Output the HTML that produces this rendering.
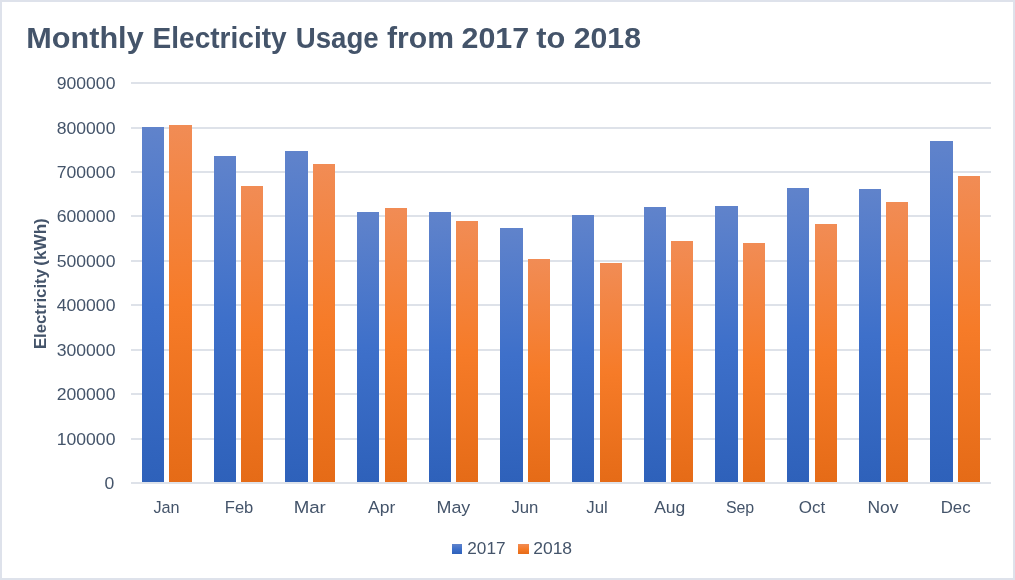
<!DOCTYPE html>
<html lang="en">
<head>
<meta charset="utf-8">
<title>Monthly Electricity Usage from 2017 to 2018</title>
<style>
html,body{margin:0;padding:0;background:#fff;}
body{width:1015px;height:580px;overflow:hidden;}
svg{display:block;}
text{font-family:"Liberation Sans",sans-serif;fill:#44546A;}
.b{font-weight:bold;}
</style>
</head>
<body>
<svg width="1015" height="580" viewBox="0 0 1015 580">
<defs>
<linearGradient id="gb" x1="0" y1="0" x2="0" y2="1"><stop offset="0" stop-color="#6083CB"/><stop offset="0.5" stop-color="#3E70CA"/><stop offset="1" stop-color="#2E61BA"/></linearGradient>
<linearGradient id="go" x1="0" y1="0" x2="0" y2="1"><stop offset="0" stop-color="#F18C55"/><stop offset="0.5" stop-color="#F67B28"/><stop offset="1" stop-color="#E56B17"/></linearGradient>
</defs>
<rect x="0" y="0" width="1015" height="580" fill="#DEE2EB"/>
<rect x="2" y="2" width="1011" height="576" fill="#FFFFFF"/>
<g shape-rendering="crispEdges" fill="#DEE2E9">
<rect x="131" y="82" width="860" height="2"/>
<rect x="131" y="127" width="860" height="2"/>
<rect x="131" y="171" width="860" height="2"/>
<rect x="131" y="215" width="860" height="2"/>
<rect x="131" y="260" width="860" height="2"/>
<rect x="131" y="304" width="860" height="2"/>
<rect x="131" y="349" width="860" height="2"/>
<rect x="131" y="393" width="860" height="2"/>
<rect x="131" y="438" width="860" height="2"/>
</g>
<g shape-rendering="crispEdges">
<rect x="142" y="127" width="22" height="356" fill="url(#gb)"/>
<rect x="169" y="125" width="23" height="358" fill="url(#go)"/>
<rect x="214" y="156" width="22" height="327" fill="url(#gb)"/>
<rect x="241" y="186" width="22" height="297" fill="url(#go)"/>
<rect x="285" y="151" width="23" height="332" fill="url(#gb)"/>
<rect x="313" y="164" width="22" height="319" fill="url(#go)"/>
<rect x="357" y="212" width="22" height="271" fill="url(#gb)"/>
<rect x="385" y="208" width="22" height="275" fill="url(#go)"/>
<rect x="429" y="212" width="22" height="271" fill="url(#gb)"/>
<rect x="456" y="221" width="22" height="262" fill="url(#go)"/>
<rect x="500" y="228" width="23" height="255" fill="url(#gb)"/>
<rect x="528" y="259" width="22" height="224" fill="url(#go)"/>
<rect x="572" y="215" width="22" height="268" fill="url(#gb)"/>
<rect x="600" y="263" width="22" height="220" fill="url(#go)"/>
<rect x="644" y="207" width="22" height="276" fill="url(#gb)"/>
<rect x="671" y="241" width="22" height="242" fill="url(#go)"/>
<rect x="715" y="206" width="23" height="277" fill="url(#gb)"/>
<rect x="743" y="243" width="22" height="240" fill="url(#go)"/>
<rect x="787" y="188" width="22" height="295" fill="url(#gb)"/>
<rect x="815" y="224" width="22" height="259" fill="url(#go)"/>
<rect x="859" y="189" width="22" height="294" fill="url(#gb)"/>
<rect x="886" y="202" width="22" height="281" fill="url(#go)"/>
<rect x="930" y="141" width="23" height="342" fill="url(#gb)"/>
<rect x="958" y="176" width="22" height="307" fill="url(#go)"/>
</g>
<rect x="131" y="482" width="860" height="2" fill="#DEE2E9" shape-rendering="crispEdges"/>
<g class="b" font-size="29">
<text id="tw0" x="26.30" y="48.4" textLength="117.38" lengthAdjust="spacingAndGlyphs">Monthly</text>
<text id="tw1" x="152.55" y="48.4" textLength="134.09" lengthAdjust="spacingAndGlyphs">Electricity</text>
<text id="tw2" x="295.70" y="48.4" textLength="82.95" lengthAdjust="spacingAndGlyphs">Usage</text>
<text id="tw3" x="387.10" y="48.4" textLength="66.95" lengthAdjust="spacingAndGlyphs">from</text>
<text id="tw4" x="461.50" y="48.4" textLength="67.64" lengthAdjust="spacingAndGlyphs">2017</text>
<text id="tw5" x="536.20" y="48.4" textLength="29.04" lengthAdjust="spacingAndGlyphs">to</text>
<text id="tw6" x="573.75" y="48.4" textLength="67.21" lengthAdjust="spacingAndGlyphs">2018</text>
</g>
<g font-size="17.3" text-anchor="end">
<text id="yl0" x="115.45" y="89.05" textLength="58.72" lengthAdjust="spacingAndGlyphs">900000</text>
<text id="yl1" x="115.45" y="134.05" textLength="58.72" lengthAdjust="spacingAndGlyphs">800000</text>
<text id="yl2" x="115.45" y="178.05" textLength="58.72" lengthAdjust="spacingAndGlyphs">700000</text>
<text id="yl3" x="115.45" y="222.05" textLength="58.72" lengthAdjust="spacingAndGlyphs">600000</text>
<text id="yl4" x="115.45" y="267.05" textLength="58.72" lengthAdjust="spacingAndGlyphs">500000</text>
<text id="yl5" x="115.45" y="311.05" textLength="58.72" lengthAdjust="spacingAndGlyphs">400000</text>
<text id="yl6" x="115.45" y="356.05" textLength="58.72" lengthAdjust="spacingAndGlyphs">300000</text>
<text id="yl7" x="115.45" y="400.05" textLength="58.72" lengthAdjust="spacingAndGlyphs">200000</text>
<text id="yl8" x="115.45" y="445.05" textLength="58.72" lengthAdjust="spacingAndGlyphs">100000</text>
<text id="yl9" x="114.25" y="489.05" textLength="9.79" lengthAdjust="spacingAndGlyphs">0</text>
</g>
<g font-size="16.9">
<text id="m0" x="153.40" y="512.7" textLength="26.18" lengthAdjust="spacingAndGlyphs">Jan</text>
<text id="m1" x="224.80" y="512.7" textLength="28.51" lengthAdjust="spacingAndGlyphs">Feb</text>
<text id="m2" x="293.65" y="512.7" textLength="32.20" lengthAdjust="spacingAndGlyphs">Mar</text>
<text id="m3" x="368.00" y="512.7" textLength="27.25" lengthAdjust="spacingAndGlyphs">Apr</text>
<text id="m4" x="436.50" y="512.7" textLength="33.78" lengthAdjust="spacingAndGlyphs">May</text>
<text id="m5" x="511.45" y="512.7" textLength="26.99" lengthAdjust="spacingAndGlyphs">Jun</text>
<text id="m6" x="586.30" y="512.7" textLength="21.51" lengthAdjust="spacingAndGlyphs">Jul</text>
<text id="m7" x="654.20" y="512.7" textLength="31.17" lengthAdjust="spacingAndGlyphs">Aug</text>
<text id="m8" x="725.90" y="512.7" textLength="28.33" lengthAdjust="spacingAndGlyphs">Sep</text>
<text id="m9" x="798.75" y="512.7" textLength="26.44" lengthAdjust="spacingAndGlyphs">Oct</text>
<text id="m10" x="867.45" y="512.7" textLength="30.98" lengthAdjust="spacingAndGlyphs">Nov</text>
<text id="m11" x="940.65" y="512.7" textLength="29.90" lengthAdjust="spacingAndGlyphs">Dec</text>
</g>
<text id="yt0" class="b" font-size="17" transform="translate(46.1 349.10) rotate(-90)" textLength="80.07" lengthAdjust="spacingAndGlyphs">Electricity</text>
<text id="yt1" class="b" font-size="17" transform="translate(46.1 265.75) rotate(-90)" textLength="47.55" lengthAdjust="spacingAndGlyphs">(kWh)</text>
<rect x="452" y="544" width="10" height="10" fill="url(#gb)" shape-rendering="crispEdges"/>
<rect x="518" y="544" width="11" height="10" fill="url(#go)" shape-rendering="crispEdges"/>
<g font-size="17.3">
<text id="lg0" x="467.25" y="553.65" textLength="38.308809734322125" lengthAdjust="spacingAndGlyphs">2017</text>
<text id="lg1" x="533.1499999999996" y="553.65" textLength="38.98123125877857" lengthAdjust="spacingAndGlyphs">2018</text>
</g>
</svg>
</body>
</html>
